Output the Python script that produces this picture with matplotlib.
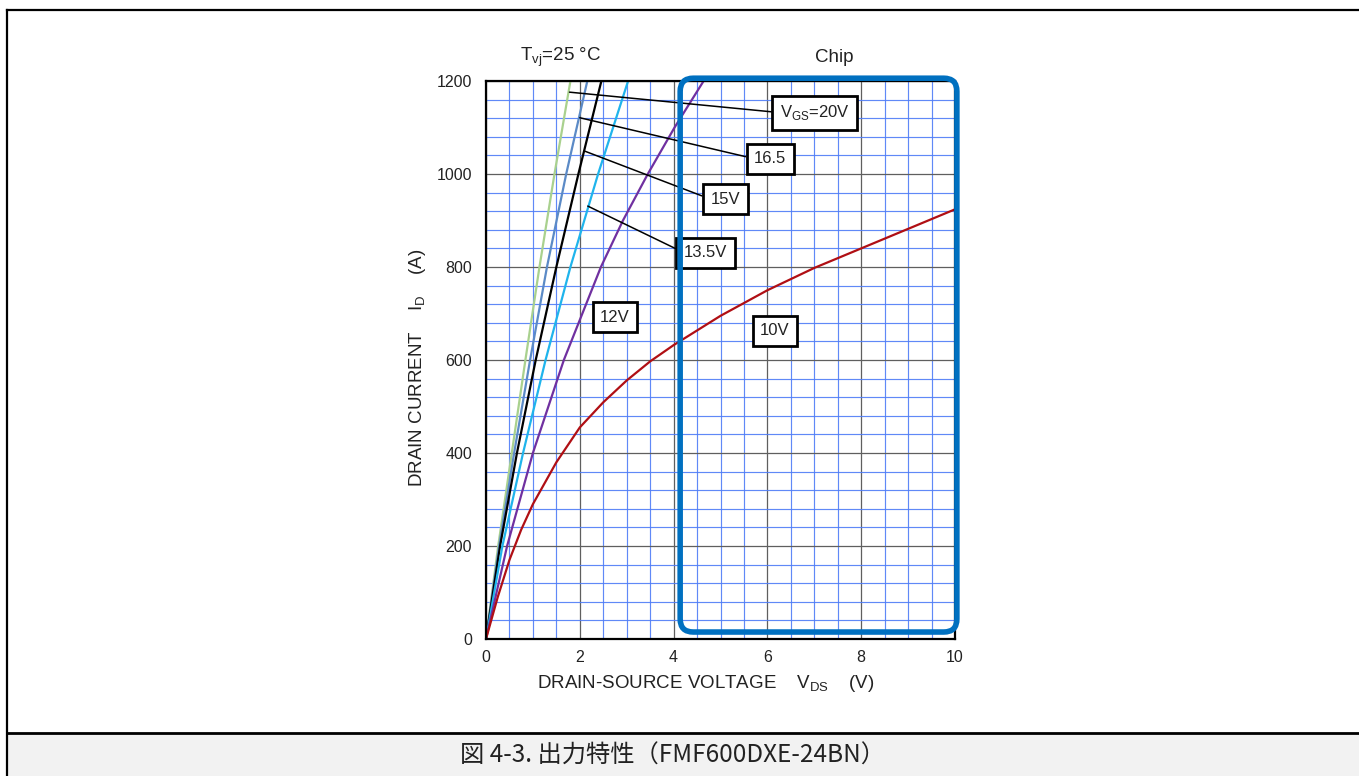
import matplotlib
matplotlib.use("Agg")
import matplotlib.pyplot as plt
from matplotlib.patches import FancyBboxPatch, Rectangle
from matplotlib.lines import Line2D

plt.rcParams['font.family'] = ['Liberation Sans', 'DejaVu Sans']
plt.rcParams['mathtext.fontset'] = 'custom'
plt.rcParams['mathtext.rm'] = 'Liberation Sans'

# Output characteristics: I_D levels and the V_DS read for each gate voltage
i_levels = [0, 200, 400, 600, 800, 1000, 1200]
v_20 = [0, 0.26, 0.55, 0.84, 1.14, 1.46, 1.80]
v_165 = [0, 0.28, 0.60, 0.94, 1.30, 1.71, 2.16]
v_15 = [0, 0.30, 0.66, 1.06, 1.50, 1.97, 2.46]
v_135 = [0, 0.35, 0.79, 1.27, 1.80, 2.39, 3.03]

# 12 V bends more, so it is read at finer current steps
i_12 = [0, 200, 400, 600, 800, 900, 1000, 1100, 1200]
v_12 = [0, 0.45, 1.00, 1.66, 2.45, 2.92, 3.45, 4.02, 4.64]

# 10 V curve saturates, so sample it along V_DS instead
v_10 = [0, 0.25, 0.5, 0.75, 1, 1.5, 2, 2.5, 3, 3.5, 4, 5, 6, 7, 8, 9, 10]
i_10 = [0, 90, 170, 235, 290, 380, 455, 509, 556, 597, 632, 695, 750, 798, 840, 882, 924]

curves = [
    (v_20, i_levels, '#a9d18e'),
    (v_165, i_levels, '#5b8ac6'),
    (v_15, i_levels, '#000000'),
    (v_135, i_levels, '#1fb4ec'),
    (v_12, i_12, '#7030a0'),
    (v_10, i_10, '#b00f14'),
]

# gate voltage tags: text, curve point, box centre
tags = [
    ('V$_{\\mathregular{GS}}$=20V', (1.78, 1176), (7.01, 1132)),
    ('16.5', (2.00, 1121), (6.06, 1033)),
    ('15V', (2.11, 1049), (5.10, 946)),
    ('13.5V', (2.17, 931), (4.68, 831)),
]
free_tags = [('12V', (2.75, 692)), ('10V', (6.16, 663))]

W, H = 1359, 776
fig = plt.figure(figsize=(W / 100, H / 100), dpi=100)
ax = fig.add_axes([486 / W, 1 - 639 / H, 469 / W, 558 / H])

ax.set_xlim(0, 10)
ax.set_ylim(0, 1200)
ax.set_xticks(range(0, 11, 2))
ax.set_yticks(range(0, 1201, 200))
ax.set_xticks([x * 0.5 for x in range(21)], minor=True)
ax.set_yticks(range(0, 1201, 40), minor=True)
ax.tick_params(which='both', length=0, labelsize=11.5, colors='#222222')
ax.tick_params(axis='y', pad=10)
ax.tick_params(axis='x', pad=8)
ax.grid(which='minor', color='#4f7cf7', lw=0.85, alpha=0.9)
ax.grid(which='major', color='#5f5f5f', lw=0.9)
ax.set_axisbelow(True)
for s in ax.spines.values():
    s.set_linewidth(1.6)
    s.set_color('black')
    s.set_zorder(6)

for vx, iy, col in curves:
    ax.plot(vx, iy, color=col, lw=1.6, zorder=3, solid_joinstyle='round')

box_kw = dict(boxstyle='square,pad=0.45', fc='white', ec='black', lw=2.0)
for txt, pt, centre in tags:
    ax.annotate(txt, xy=pt, xytext=centre, fontsize=12, ha='center', va='center',
                color='#222222', bbox=box_kw, zorder=5,
                arrowprops=dict(arrowstyle='-', color='black', lw=1.1,
                                shrinkA=0, shrinkB=0, relpos=(0, 0.5)))
for txt, centre in free_tags:
    ax.text(*centre, txt, fontsize=12, ha='center', va='center', color='#222222',
            bbox=box_kw, zorder=5)

# rounded "Chip" frame, radius kept round in pixels
chip = FancyBboxPatch((4.14, 15), 10.04 - 4.14, 1206 - 15,
                      boxstyle='round,pad=0,rounding_size=0.28',
                      mutation_aspect=101, fc='none', ec='#0070c0', lw=4.0,
                      clip_on=False, zorder=7)
ax.add_patch(chip)

fig.text(561 / W, 1 - 57 / H, 'T$_{\\mathregular{vj}}$=25 °C', fontsize=13.5,
         ha='center', va='center', color='#222222')
fig.text(834 / W, 1 - 57 / H, 'Chip', fontsize=13.5, ha='center', va='center',
         color='#222222')
fig.text(418 / W, 1 - 368 / H, 'DRAIN CURRENT    I$_{\\mathregular{D}}$    (A)',
         fontsize=13.5, rotation=90, ha='center', va='center', color='#222222')
fig.text(706 / W, 1 - 684 / H, 'DRAIN-SOURCE VOLTAGE    V$_{\\mathregular{DS}}$    (V)',
         fontsize=13.5, ha='center', va='center', color='#222222')

# page frame and caption strip
fig.add_artist(Rectangle((8 / W, 0), 1, 1 - 734 / H, transform=fig.transFigure,
                         fc='#f2f2f2', ec='none'))
fig.add_artist(Line2D([7 / W, 7 / W], [0, 1 - 10 / H], transform=fig.transFigure,
                      color='black', lw=1.6))
fig.add_artist(Line2D([7 / W, 1], [1 - 10 / H, 1 - 10 / H], transform=fig.transFigure,
                      color='black', lw=1.6))
fig.add_artist(Line2D([7 / W, 1], [1 - 733 / H, 1 - 733 / H], transform=fig.transFigure,
                      color='black', lw=2.0))
fig.text(673 / W, 1 - 756 / H, '図 4-3. 出力特性（FMF600DXE-24BN）', fontsize=17.5,
         ha='center', va='center', color='#222222',
         family=['Noto Sans CJK JP', 'DejaVu Sans'])

fig.savefig('out.png', dpi=100)
